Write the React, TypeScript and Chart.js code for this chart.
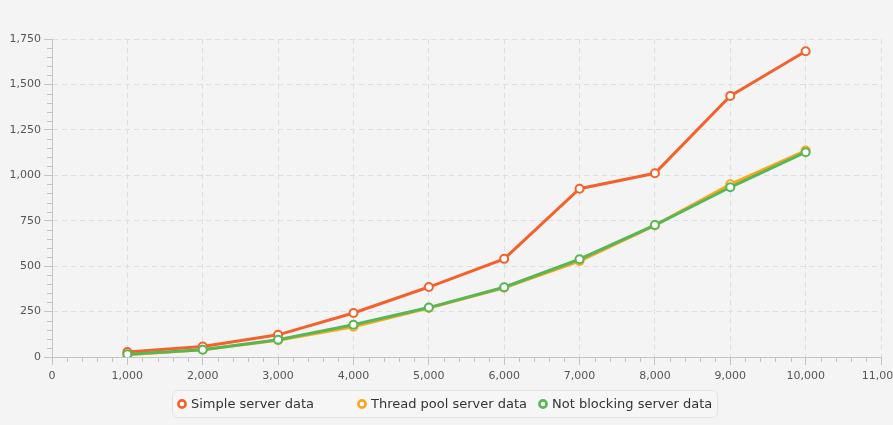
import React, { useEffect, useRef } from 'react';
import { Chart, registerables } from 'chart.js';

Chart.register(...registerables);

// ---- data ----
const requestCounts = [1000, 2000, 3000, 4000, 5000, 6000, 7000, 8000, 9000, 10000];
const simpleServer = [27, 58, 122, 242, 385, 540, 926, 1011, 1437, 1683];
const threadPoolServer = [12, 40, 92, 166, 270, 381, 528, 724, 950, 1136];
const notBlockingServer = [15, 40, 95, 177, 272, 384, 538, 726, 934, 1127];
const seriesNames = ['Simple server data', 'Thread pool server data', 'Not blocking server data'];
const seriesColors = ['#f3622d', '#fba71b', '#57b757'];

const FONT = "'DejaVu Sans', sans-serif";

const toPoints = (ys: number[]) => requestCounts.map((x, i) => ({ x, y: ys[i] }));

const minorTicksPlugin = {
  id: 'minorTicks',
  afterDraw(chart: any) {
    const { ctx, chartArea, scales } = chart;
    const xs = scales.x;
    const ys = scales.y;
    ctx.save();
    ctx.strokeStyle = '#c4c4c4';
    ctx.lineWidth = 1;
    ctx.beginPath();
    for (let v = 200; v < 11000; v += 200) {
      if (v % 1000 === 0) continue;
      const px = Math.round(xs.getPixelForValue(v)) + 0.5;
      ctx.moveTo(px, chartArea.bottom);
      ctx.lineTo(px, chartArea.bottom + 5);
    }
    for (let v = 50; v < 1750; v += 50) {
      if (v % 250 === 0) continue;
      const py = Math.round(ys.getPixelForValue(v)) + 0.5;
      ctx.moveTo(chartArea.left - 5, py);
      ctx.lineTo(chartArea.left, py);
    }
    ctx.stroke();
    ctx.restore();
  },
};

const legendPlugin = {
  id: 'boxLegend',
  afterDraw(chart: any) {
    const { ctx } = chart;
    ctx.save();
    const bx = 172.5, by = 390.5, bw = 545, bh = 27, r = 5;
    ctx.beginPath();
    ctx.moveTo(bx + r, by);
    ctx.lineTo(bx + bw - r, by);
    ctx.arcTo(bx + bw, by, bx + bw, by + r, r);
    ctx.lineTo(bx + bw, by + bh - r);
    ctx.arcTo(bx + bw, by + bh, bx + bw - r, by + bh, r);
    ctx.lineTo(bx + r, by + bh);
    ctx.arcTo(bx, by + bh, bx, by + bh - r, r);
    ctx.lineTo(bx, by + r);
    ctx.arcTo(bx, by, bx + r, by, r);
    ctx.closePath();
    ctx.fillStyle = '#f6f6f6';
    ctx.fill();
    ctx.strokeStyle = '#e2e2e2';
    ctx.lineWidth = 1;
    ctx.stroke();

    const markerX = [182, 362, 543];
    const cy = 404;
    ctx.font = `13px ${FONT}`;
    ctx.textBaseline = 'middle';
    ctx.textAlign = 'left';
    seriesNames.forEach((name, i) => {
      ctx.beginPath();
      ctx.arc(markerX[i], cy, 3.6, 0, Math.PI * 2);
      ctx.fillStyle = '#ffffff';
      ctx.fill();
      ctx.lineWidth = 2.6;
      ctx.strokeStyle = seriesColors[i];
      ctx.stroke();
      ctx.fillStyle = '#333333';
      ctx.fillText(name, markerX[i] + 9, cy + 0.5);
    });
    ctx.restore();
  },
};

export default function App() {
  const canvasRef = useRef<HTMLCanvasElement | null>(null);

  useEffect(() => {
    document.body.style.margin = '0';
    document.body.style.background = '#f4f4f4';
    const canvas = canvasRef.current;
    if (!canvas) return;
    const seriesData = [simpleServer, threadPoolServer, notBlockingServer];
    const chart = new Chart(canvas, {
      type: 'line',
      data: {
        datasets: seriesData.map((d, i) => ({
          label: seriesNames[i],
          data: toPoints(d),
          borderColor: seriesColors[i],
          backgroundColor: seriesColors[i],
          borderWidth: 3,
          tension: 0,
          fill: false,
          pointRadius: 4,
          pointBorderWidth: 2,
          pointBorderColor: seriesColors[i],
          pointBackgroundColor: '#ffffff',
          order: 3 - i,
        })),
      },
      options: {
        responsive: false,
        animation: false,
        devicePixelRatio: 1,
        layout: { padding: { top: 39, right: 12, bottom: 43, left: 0 } },
        plugins: {
          legend: { display: false },
          tooltip: { enabled: false },
        },
        events: [],
        scales: {
          x: {
            type: 'linear',
            min: 0,
            max: 11000,
            ticks: {
              stepSize: 1000,
              autoSkip: false,
              maxRotation: 0,
              padding: 5,
              color: '#555555',
              font: { family: FONT, size: 11 },
            },
            grid: {
              color: '#dedede',
              lineWidth: 1,
              drawTicks: true,
              tickLength: 8,
              tickColor: '#c4c4c4',
            },
            border: { display: true, color: '#c4c4c4', width: 1, dash: [5, 4] },
            afterFit: (scale: any) => {
              scale.height = 25;
              scale.paddingLeft = 0;
              scale.paddingRight = 0;
            },
          },
          y: {
            type: 'linear',
            min: 0,
            max: 1750,
            ticks: {
              stepSize: 250,
              padding: 3,
              color: '#555555',
              font: { family: FONT, size: 11 },
            },
            grid: {
              color: '#dedede',
              lineWidth: 1,
              drawTicks: true,
              tickLength: 8,
              tickColor: '#c4c4c4',
            },
            border: { display: true, color: '#c4c4c4', width: 1, dash: [5, 4] },
            afterFit: (scale: any) => {
              scale.width = 52;
              scale.paddingTop = 0;
              scale.paddingBottom = 0;
            },
          },
        },
      } as any,
      plugins: [minorTicksPlugin, legendPlugin],
    });
    return () => chart.destroy();
  }, []);

  return (
    <div style={{ position: 'fixed', left: 0, top: 0, width: 893, height: 425, background: '#f4f4f4' }}>
      <canvas ref={canvasRef} width={893} height={425} style={{ display: 'block', width: 893, height: 425 }} />
    </div>
  );
}
